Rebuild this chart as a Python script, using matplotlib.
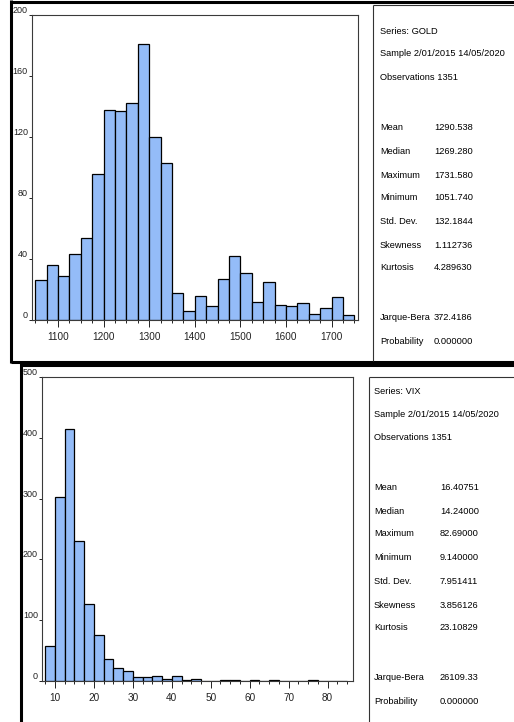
import matplotlib
matplotlib.use('Agg')
import matplotlib.pyplot as plt
from matplotlib.lines import Line2D
from matplotlib.ticker import MultipleLocator
import numpy as np

# histogram data
gold_start, gold_width = 1050, 25
gold_counts = [26, 36, 29, 43, 54, 96, 138, 137, 142, 181, 120, 103, 18, 6,
               16, 9, 27, 42, 31, 12, 25, 10, 9, 11, 4, 8, 15, 3]
gold_xticks = [1100, 1200, 1300, 1400, 1500, 1600, 1700]
gold_yticks = [0, 40, 80, 120, 160, 200]

vix_start, vix_width = 7.5, 2.5
vix_counts = [58, 302, 414, 230, 127, 76, 37, 22, 16, 6, 7, 8, 3, 8, 2, 4,
              0, 0, 2, 1, 0, 2, 0, 1, 0, 0, 0, 2, 0, 0, 0]
vix_xticks = [10, 20, 30, 40, 50, 60, 70, 80]
vix_yticks = [0, 100, 200, 300, 400, 500]

stat_names = ['Mean', 'Median', 'Maximum', 'Minimum', 'Std. Dev.', 'Skewness', 'Kurtosis']
gold_header = ['Series: GOLD', 'Sample 2/01/2015 14/05/2020', 'Observations 1351']
gold_stats = ['1290.538', '1269.280', '1731.580', '1051.740', '132.1844', '1.112736', '4.289630']
gold_jb = ['372.4186', '0.000000']
vix_header = ['Series: VIX', 'Sample 2/01/2015 14/05/2020', 'Observations 1351']
vix_stats = ['16.40751', '14.24000', '82.69000', '9.140000', '7.951411', '3.856126', '23.10829']
vix_jb = ['26109.33', '0.000000']
jb_names = ['Jarque-Bera', 'Probability']

BAR = '#94bcf8'
plt.rcParams['font.family'] = ['Liberation Sans', 'DejaVu Sans']

W, H = 514, 722
fig = plt.figure(figsize=(W / 100, H / 100), dpi=100)

def fx(x):
    return x / W

def fy(y):
    return 1 - y / H

def frame_line(x0, y0, x1, y1, lw=2.2, color='black'):
    fig.add_artist(Line2D([fx(x0), fx(x1)], [fy(y0), fy(y1)], lw=lw,
                          color=color, transform=fig.transFigure, solid_capstyle='butt'))

def histo(rect, start, width, counts, xticks, yticks, xlim):
    ax = fig.add_axes(rect)
    edges = start + width * np.arange(len(counts) + 1)
    ax.bar(edges[:-1], counts, width=width, align='edge', color=BAR,
           edgecolor='black', linewidth=0.9)
    ax.set_ylim(yticks[0], yticks[-1])
    ax.set_xticks(xticks)
    ax.xaxis.set_minor_locator(MultipleLocator(width))
    ax.set_xlim(*xlim)
    ax.set_yticks(yticks)
    for s in ax.spines.values():
        s.set_color('#3a3a3a')
        s.set_linewidth(0.8)
    ax.tick_params(axis='x', which='major', length=5, width=0.7, pad=3.5,
                   labelsize=7.2, colors='#222222')
    ax.tick_params(axis='x', which='minor', length=2.5, width=0.7, colors='#222222')
    ax.tick_params(axis='y', length=2.5, width=0.7, pad=0.5, labelsize=6.5,
                   colors='#222222')
    for lab in ax.get_yticklabels():
        lab.set_va('bottom')
    return ax

def stats_box(x_lab, x_val, y_rows, header, values, jb_values, fs):
    rows = header + stat_names + jb_names
    vals = [None] * 3 + values + jb_values
    for y, name, v in zip(y_rows, rows, vals):
        fig.text(fx(x_lab), fy(y), name, fontsize=fs, va='center', ha='left')
        if v is not None:
            fig.text(fx(x_val), fy(y), v, fontsize=fs, va='center', ha='left')

# --- top panel: GOLD ---
frame_line(11, 1.5, 520, 1.5)
frame_line(11, 0, 11, 363)
frame_line(11, 361.5, 520, 361.5)
frame_line(373, 5, 373, 361, lw=0.8, color='#333333')
frame_line(373, 5, 520, 5, lw=0.8, color='#333333')
histo([fx(32), fy(320), (358 - 32) / W, (320 - 15) / H], gold_start, gold_width,
      gold_counts, gold_xticks, gold_yticks, (1043, 1758))
top_rows = [31, 54, 78, 128, 152, 175, 198, 222, 245, 268, 318, 342]
stats_box(380, 434, top_rows, gold_header, gold_stats, gold_jb, 6.7)

# --- bottom panel: VIX ---
frame_line(21, 364.5, 520, 364.5)
frame_line(21, 363, 21, 730)
frame_line(369, 377, 369, 730, lw=0.8, color='#333333')
frame_line(369, 377, 520, 377, lw=0.8, color='#333333')
histo([fx(42), fy(681), (353 - 42) / W, (681 - 377) / H], vix_start, vix_width,
      vix_counts, vix_xticks, vix_yticks, (6.7, 86.5))
bot_rows = [392, 415, 438, 487, 511, 534, 557, 581, 605, 628, 678, 701]
stats_box(374, 440, bot_rows, vix_header, vix_stats, vix_jb, 6.7)

fig.savefig('out.png', dpi=100)
